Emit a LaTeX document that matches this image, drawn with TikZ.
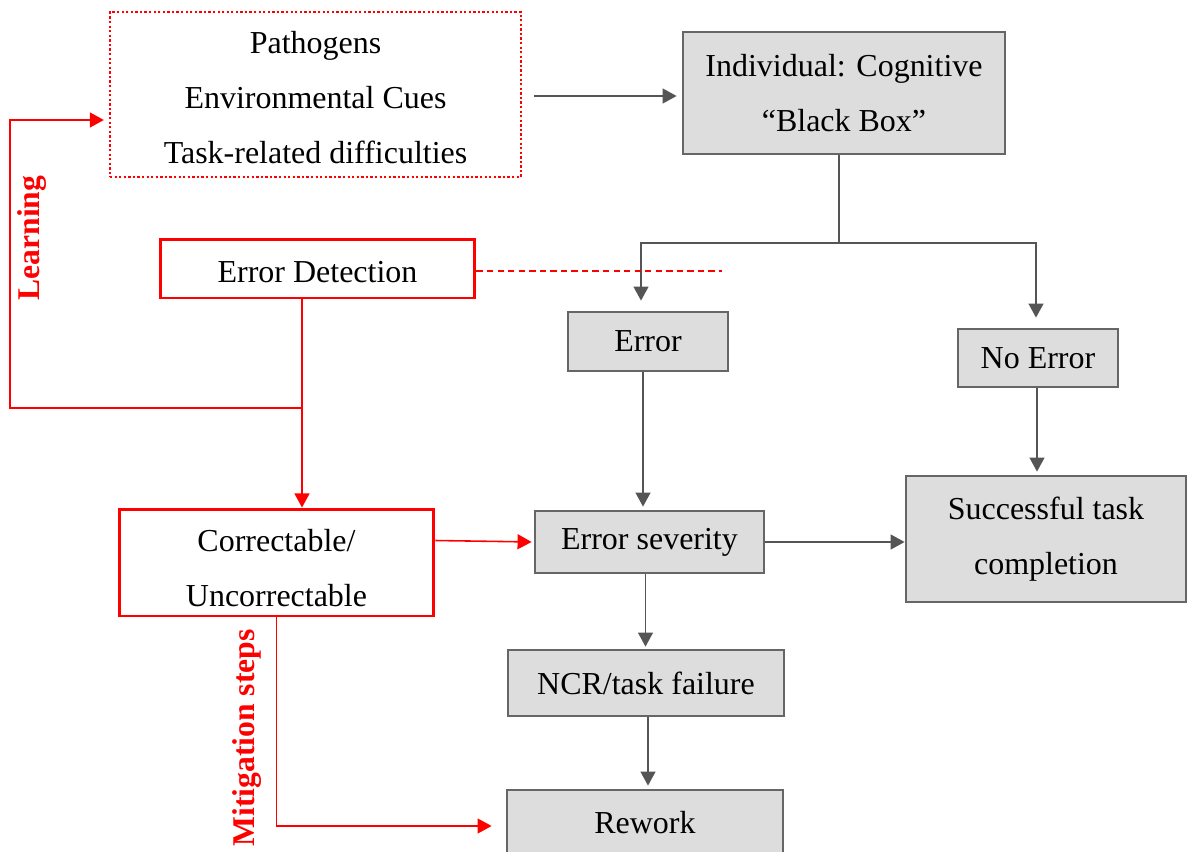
\documentclass[tikz,border=0pt]{standalone}
\usepackage{fontspec}
\setmainfont{Liberation Serif}
\usetikzlibrary{arrows.meta,calc}
\definecolor{boxgray}{HTML}{DDDDDD}
\definecolor{edgegray}{HTML}{666666}
\definecolor{linegray}{HTML}{555555}
\definecolor{alarm}{HTML}{FF0000}
\begin{document}
\begin{tikzpicture}[x=0.02cm,y=-0.02cm,
  every node/.style={font=\fontsize{18.2}{31.3}\selectfont, align=center, inner sep=0pt},
  gbox/.style={draw=edgegray, fill=boxgray, line width=1.6pt},
  rbox/.style={draw=alarm, line width=1.7pt},
  srcbox/.style={draw=alarm, line width=1.3pt, dash pattern=on 1.3pt off 1.3pt},
  gline/.style={draw=linegray, line width=0.9pt},
  garrow/.style={gline, -{Triangle[length=8pt,width=8.5pt]}},
  rline/.style={draw=alarm, line width=0.9pt},
  rarrow/.style={rline, -{Triangle[length=8pt,width=8.5pt]}},
  rdash/.style={draw=alarm, line width=0.8pt, dash pattern=on 3.6pt off 2.4pt},
  sidelabel/.style={font=\fontsize{18}{20}\selectfont\bfseries, text=alarm, rotate=90}
]
\useasboundingbox (0,0) rectangle (1187,852);

% boxes
\node[srcbox, minimum width=8.22cm, minimum height=3.3cm] (src) at (315.5,94.5)
  {\rule{0pt}{16pt}Pathogens\\Environmental Cues\\Task-related difficulties};
\node[gbox, minimum width=6.44cm, minimum height=2.44cm] (indiv) at (844,93)
  {Individual: Cognitive\\``Black Box''};
\node[rbox, minimum width=6.3cm, minimum height=1.18cm] (ed) at (317.5,268.5)
  {\rule{0pt}{16pt}Error Detection};
\node[gbox, minimum width=3.2cm, minimum height=1.18cm] (err) at (648,341.5) {Error};
\node[gbox, minimum width=3.2cm, minimum height=1.16cm] (noerr) at (1038,358) {No Error};
\node[rbox, minimum width=6.3cm, minimum height=2.14cm] (corr) at (276.5,562.5)
  {\rule{0pt}{19pt}Correctable/\\Uncorrectable};
\node[gbox, minimum width=4.58cm, minimum height=1.24cm] (sev) at (649.5,542) {Error severity};
\node[gbox, minimum width=5.6cm, minimum height=2.52cm] (succ) at (1046,539) {Successful task\\completion};
\node[gbox, minimum width=5.52cm, minimum height=1.32cm] (ncr) at (646,683) {NCR/task failure};
\node[gbox, minimum width=5.52cm, minimum height=1.32cm] (rework) at (645,823) {Rework};

% side labels
\node[sidelabel] (learn) at (32,238) {Learning};
\node[sidelabel] (mitig) at (247,738) {Mitigation steps};

% junction points
\coordinate (split) at (839,243);
\coordinate (lj) at (302,408);
\coordinate (lc) at (10,408);
\coordinate (dend) at (722,271);

% grey flow
\draw[garrow, shorten <=0.24cm, shorten >=0.1cm] ([yshift=-0.03cm]src.east) -- ([yshift=-0.03cm]src.east -| indiv.west);
\draw[gline] (indiv.south -| split) -- (split);
\draw[garrow, shorten >=0.2cm] (split) -| ([xshift=-0.14cm]err.north);
\draw[garrow, shorten >=0.2cm] (split) -| ([xshift=-0.04cm]noerr.north);
\draw[garrow, shorten >=0.06cm] ([xshift=-0.1cm]err.south) -- ([xshift=-0.1cm]err.south |- sev.north);
\draw[garrow, shorten >=0.06cm] ([xshift=-0.02cm]noerr.south) -- ([xshift=-0.02cm]noerr.south |- succ.north);
\draw[garrow] (sev.east) -- (succ.west |- sev.east);
\draw[garrow, shorten >=0.04cm] ([xshift=-0.08cm]sev.south) -- ([xshift=-0.08cm]sev.south |- ncr.north);
\draw[garrow, shorten >=0.06cm] ([xshift=0.04cm]ncr.south) -- ([xshift=0.04cm]ncr.south |- rework.north);

% red feedback paths
\draw[rdash] ([yshift=-0.05cm]ed.east) -- ([yshift=-0.05cm]ed.east -| dend);
\draw[rline] (ed.south -| lj) -- (lj);
\draw[rarrow] (lj) -- (lj |- corr.north);
\draw[rarrow, shorten >=0.1cm] (lj) -- (lc) |- ([yshift=-0.51cm]src.west);
\draw[rarrow, shorten >=0.04cm] ([yshift=0.44cm]corr.east) -- (sev.west);
\draw[rarrow, shorten >=0.28cm] (corr.south) |- ([yshift=-0.06cm]rework.west);
\end{tikzpicture}
\end{document}
